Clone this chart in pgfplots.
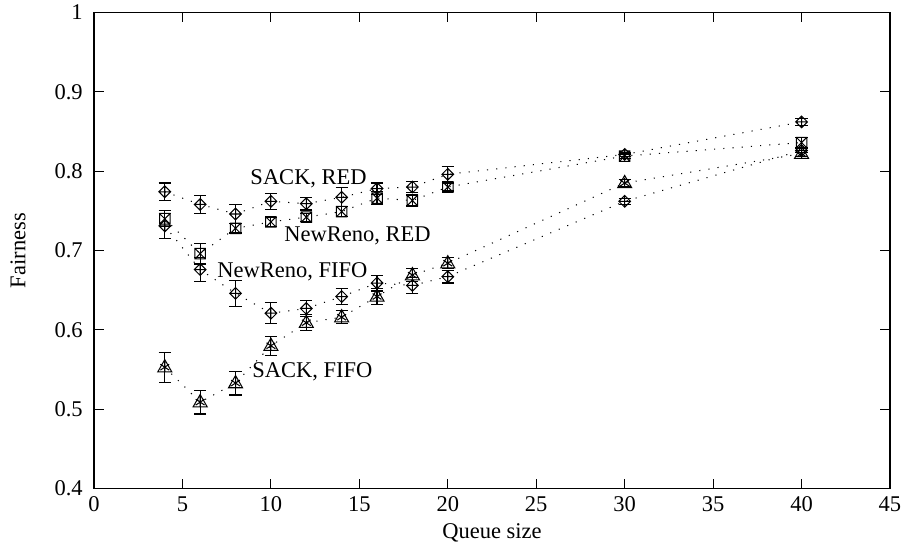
\documentclass[border=0pt]{standalone}
\usepackage{fontspec}
\setmainfont{Liberation Serif}
\usepackage{pgfplots}
\usepackage{pgfplotstable}
\pgfplotsset{compat=1.18}

% gnuplot-like point types: diamond with plus, box with cross, triangle with star
\pgfdeclareplotmark{dplus}{%
  \pgfpathmoveto{\pgfqpoint{0pt}{\pgfplotmarksize}}%
  \pgfpathlineto{\pgfqpoint{\pgfplotmarksize}{0pt}}%
  \pgfpathlineto{\pgfqpoint{0pt}{-\pgfplotmarksize}}%
  \pgfpathlineto{\pgfqpoint{-\pgfplotmarksize}{0pt}}%
  \pgfpathclose
  \pgfpathmoveto{\pgfqpoint{-\pgfplotmarksize}{0pt}}\pgfpathlineto{\pgfqpoint{\pgfplotmarksize}{0pt}}%
  \pgfpathmoveto{\pgfqpoint{0pt}{-\pgfplotmarksize}}\pgfpathlineto{\pgfqpoint{0pt}{\pgfplotmarksize}}%
  \pgfusepathqstroke}
\pgfdeclareplotmark{boxx}{%
  \pgfpathrectanglecorners{\pgfqpoint{-0.9\pgfplotmarksize}{-0.9\pgfplotmarksize}}{\pgfqpoint{0.9\pgfplotmarksize}{0.9\pgfplotmarksize}}%
  \pgfpathmoveto{\pgfqpoint{-0.9\pgfplotmarksize}{-0.9\pgfplotmarksize}}\pgfpathlineto{\pgfqpoint{0.9\pgfplotmarksize}{0.9\pgfplotmarksize}}%
  \pgfpathmoveto{\pgfqpoint{-0.9\pgfplotmarksize}{0.9\pgfplotmarksize}}\pgfpathlineto{\pgfqpoint{0.9\pgfplotmarksize}{-0.9\pgfplotmarksize}}%
  \pgfusepathqstroke}
\pgfdeclareplotmark{tristar}{%
  \pgfpathmoveto{\pgfqpoint{0pt}{1.3\pgfplotmarksize}}%
  \pgfpathlineto{\pgfqpoint{1.2\pgfplotmarksize}{-0.8\pgfplotmarksize}}%
  \pgfpathlineto{\pgfqpoint{-1.2\pgfplotmarksize}{-0.8\pgfplotmarksize}}%
  \pgfpathclose
  \pgfpathmoveto{\pgfqpoint{0pt}{-0.8\pgfplotmarksize}}\pgfpathlineto{\pgfqpoint{0pt}{0.9\pgfplotmarksize}}%
  \pgfpathmoveto{\pgfqpoint{-0.75\pgfplotmarksize}{-0.5\pgfplotmarksize}}\pgfpathlineto{\pgfqpoint{0.75\pgfplotmarksize}{0.5\pgfplotmarksize}}%
  \pgfpathmoveto{\pgfqpoint{-0.75\pgfplotmarksize}{0.5\pgfplotmarksize}}\pgfpathlineto{\pgfqpoint{0.75\pgfplotmarksize}{-0.5\pgfplotmarksize}}%
  \pgfusepathqstroke}

% x = queue size, y = fairness, e = half width of the error bar
\pgfplotstableread{
x  y     e
4  0.774 0.011
6  0.758 0.011
8  0.746 0.012
10 0.762 0.010
12 0.759 0.008
14 0.767 0.012
16 0.778 0.007
18 0.780 0.007
20 0.796 0.010
30 0.821 0.003
40 0.862 0.004
}\sackred
\pgfplotstableread{
x  y     e
4  0.740 0.010
6  0.696 0.013
8  0.728 0.006
10 0.736 0.006
12 0.742 0.005
14 0.749 0.006
16 0.766 0.008
18 0.763 0.007
20 0.780 0.005
30 0.819 0.003
40 0.836 0.006
}\renored
\pgfplotstableread{
x  y     e
4  0.731 0.016
6  0.676 0.015
8  0.646 0.016
10 0.621 0.013
12 0.627 0.010
14 0.642 0.010
16 0.659 0.010
18 0.656 0.010
20 0.667 0.008
30 0.762 0.004
40 0.826 0.003
}\renofifo
\pgfplotstableread{
x  y     e
4  0.553 0.019
6  0.509 0.015
8  0.533 0.015
10 0.580 0.012
12 0.609 0.010
14 0.616 0.008
16 0.642 0.010
18 0.669 0.008
20 0.684 0.007
30 0.785 0.004
40 0.822 0.004
}\sackfifo

\begin{document}
\begin{tikzpicture}
\begin{axis}[
  scale only axis, width=353.8pt, height=211.7pt,
  xmin=0, xmax=45, ymin=0.4, ymax=1,
  xtick={0,5,...,45}, ytick={0.4,0.5,...,1.0},
  tick align=inside, major tick length=4.4pt,
  axis line style={line width=0.5pt}, tick style={line width=0.5pt, black},
  /pgf/number format/assume math mode=true,
  tick label style={font=\fontsize{10}{12}\selectfont},
  label style={font=\fontsize{10}{12}\selectfont},
  yticklabel style={xshift=-1.5pt},
  xlabel={Queue size}, ylabel={Fairness},
  xlabel style={at={(axis description cs:0.5,-0.093)}, anchor=center},
  ylabel style={at={(axis description cs:-0.0955,0.5)}, anchor=center},
  every axis plot/.append style={black, line width=0.45pt, dash pattern=on 0.5pt off 3.6pt,
    mark size=2.6pt, mark options={solid, line width=0.45pt},
    error bars/y dir=both, error bars/y explicit,
    error bars/error bar style={solid, line width=0.5pt},
    error bars/error mark options={rotate=90, mark size=2.7pt, solid, line width=0.5pt}},
]
\addplot[mark=dplus] table[x=x, y=y, y error=e] {\sackred};
\addplot[mark=boxx] table[x=x, y=y, y error=e] {\renored};
\addplot[mark=dplus] table[x=x, y=y, y error=e] {\renofifo};
\addplot[mark=tristar] table[x=x, y=y, y error=e] {\sackfifo};
\node[anchor=base west, inner sep=0pt, font=\fontsize{10}{12}\selectfont] at (axis cs:8.82,0.7836) {SACK, RED};
\node[anchor=base west, inner sep=0pt, font=\fontsize{10}{12}\selectfont] at (axis cs:10.74,0.7117) {NewReno, RED};
\node[anchor=base west, inner sep=0pt, font=\fontsize{10}{12}\selectfont] at (axis cs:6.95,0.6665) {NewReno, FIFO};
\node[anchor=base west, inner sep=0pt, font=\fontsize{10}{12}\selectfont] at (axis cs:8.93,0.5405) {SACK, FIFO};
\coordinate (ll) at (rel axis cs:0,0);
\coordinate (ur) at (rel axis cs:1,1);
\end{axis}
\pgfresetboundingbox
\path ([xshift=-41.8pt,yshift=-26.4pt]ll) rectangle ([xshift=8.9pt,yshift=5.5pt]ur);
\end{tikzpicture}
\end{document}
